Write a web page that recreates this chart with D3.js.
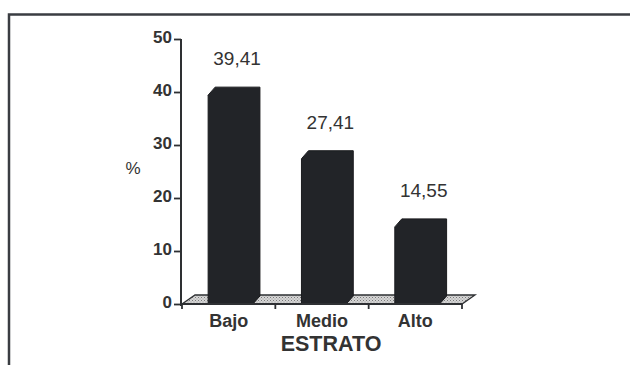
<!DOCTYPE html>
<html>
<head>
<meta charset="utf-8">
<script src="https://cdn.jsdelivr.net/npm/d3@7"></script>
<style>
  html, body { margin: 0; padding: 0; background: #fff; }
  svg { display: block; font-family: "Liberation Sans", Arial, Helvetica, sans-serif; }
</style>
</head>
<body>
<div id="chart"></div>
<script>
const categories = ["Bajo", "Medio", "Alto"];
const values = [39.41, 27.41, 14.55];
const valueLabels = ["39,41", "27,41", "14,55"];
const yTicks = [0, 10, 20, 30, 40, 50];

const W = 630, H = 365;
const ink = "#2e3033";

const svg = d3.select("#chart").append("svg")
  .attr("width", W).attr("height", H);

// pattern for floor
const defs = svg.append("defs");
const pat = defs.append("pattern").attr("id", "floor")
  .attr("width", 3).attr("height", 3).attr("patternUnits", "userSpaceOnUse");
pat.append("rect").attr("width", 3).attr("height", 3).attr("fill", "#d6d6d6");
pat.append("rect").attr("width", 1).attr("height", 1).attr("fill", "#7a7a7a");
pat.append("rect").attr("x", 1.5).attr("y", 1.5).attr("width", 1).attr("height", 1).attr("fill", "#999");

// frame (top + left edge of the scanned box)
svg.append("path")
  .attr("d", "M9,366 L9,14.5 L631,14.5")
  .attr("fill", "none").attr("stroke", "#3a3d42").attr("stroke-width", 2.5);

// scales
const x = d3.scaleBand().domain(categories).range([182, 462]);
const y = d3.scaleLinear().domain([0, 50]).range([304, 39]);

const depth = { dx: 7, dy: 8 };
const floorDepth = { dx: 13, dy: 9 };
const y0 = y(0);

// floor
const [fx0, fx1] = x.range();
svg.append("path")
  .attr("d", `M${fx0},${y0} L${fx0 + floorDepth.dx},${y0 - floorDepth.dy} L${fx1 + floorDepth.dx},${y0 - floorDepth.dy} L${fx1},${y0} Z`)
  .attr("fill", "url(#floor)").attr("stroke", ink).attr("stroke-width", 1.3);

// bars (silhouette of a 3D box)
const bw = x.bandwidth() * 0.48;
const boff = x.bandwidth() * 0.28;
const bars = svg.append("g");
categories.forEach((c, i) => {
  const bx = x(c) + boff;
  const top = y(values[i]);
  const d = [
    [bx, y0],
    [bx, top],
    [bx + depth.dx, top - depth.dy],
    [bx + bw + depth.dx, top - depth.dy],
    [bx + bw + depth.dx, y0 - depth.dy],
    [bx + bw, y0]
  ];
  bars.append("path")
    .attr("d", "M" + d.map(p => p.join(",")).join("L") + "Z")
    .attr("fill", "#222428").attr("stroke", "#1a1b1e").attr("stroke-width", 1);
  svg.append("text")
    .attr("x", bx + (bw + depth.dx) / 2 + 3)
    .attr("y", top - 30)
    .attr("text-anchor", "middle")
    .attr("font-size", 19)
    .attr("fill", "#333")
    .text(valueLabels[i]);
});

// y axis
const yAxis = svg.append("g").attr("transform", "translate(181,0)")
  .call(d3.axisLeft(y).tickValues(yTicks).tickSize(7).tickPadding(2).tickSizeOuter(0));
yAxis.select(".domain").attr("stroke", ink).attr("stroke-width", 2)
  .attr("d", `M0,${y(50)}V${y0 + 2}`);
yAxis.selectAll(".tick line").attr("stroke", ink).attr("stroke-width", 1.8);
yAxis.selectAll(".tick text")
  .attr("font-size", 17).attr("font-weight", "bold").attr("fill", "#333")
  .attr("font-family", "Liberation Sans, Arial, sans-serif")
  .attr("dy", "0.2em");

// x axis with boundary ticks
const xg = svg.append("g");
xg.append("line").attr("x1", fx0).attr("x2", fx1).attr("y1", y0).attr("y2", y0)
  .attr("stroke", ink).attr("stroke-width", 1.8);
const bounds = categories.map(c => x(c)).concat([fx1]);
xg.selectAll(".bt").data(bounds).join("line")
  .attr("x1", d => d).attr("x2", d => d)
  .attr("y1", y0).attr("y2", y0 + 5)
  .attr("stroke", ink).attr("stroke-width", 1.8);
xg.selectAll(".cl").data(categories).join("text")
  .attr("x", d => x(d) + x.bandwidth() / 2)
  .attr("y", 327)
  .attr("text-anchor", "middle")
  .attr("font-size", 18).attr("font-weight", "bold").attr("fill", "#333")
  .text(d => d);

// axis titles
svg.append("text")
  .attr("x", (fx0 + fx1) / 2 + 9).attr("y", 351)
  .attr("text-anchor", "middle")
  .attr("font-size", 21.5).attr("font-weight", "bold").attr("fill", "#333")
  .text("ESTRATO");
svg.append("text")
  .attr("x", 133).attr("y", 174)
  .attr("text-anchor", "middle")
  .attr("font-size", 17).attr("fill", "#333")
  .text("%");
</script>
</body>
</html>
